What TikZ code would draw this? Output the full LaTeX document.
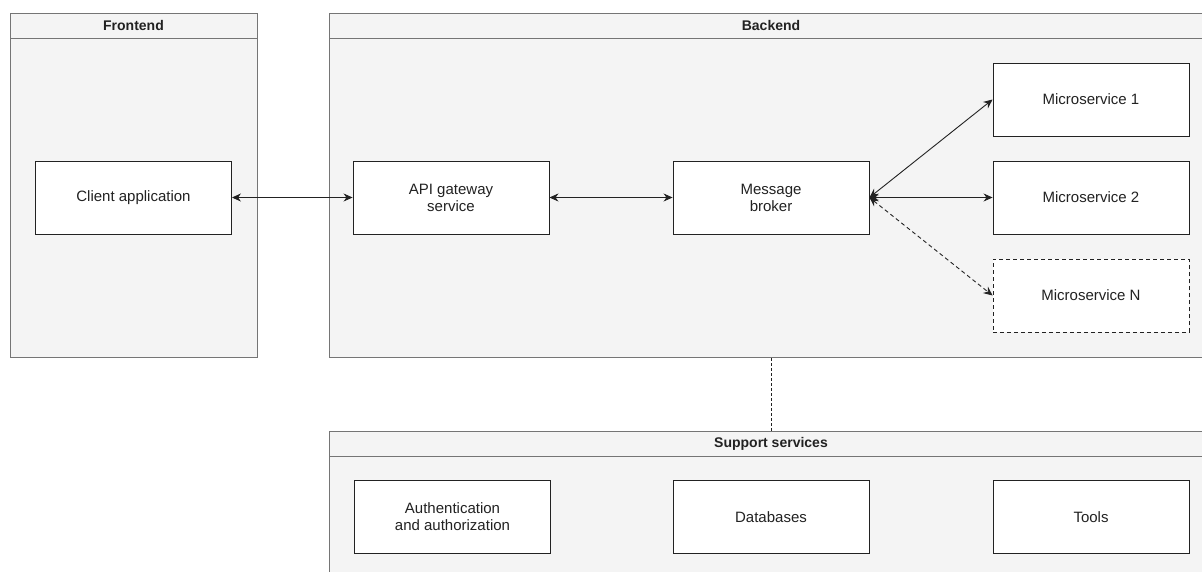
\documentclass[tikz,border=0pt]{standalone}
\usepackage{fontspec}
\setmainfont{Liberation Sans}
\usetikzlibrary{arrows.meta}
\definecolor{cfill}{HTML}{F4F4F4}
\definecolor{cline}{HTML}{757575}
\definecolor{nline}{HTML}{222222}
\definecolor{tcol}{HTML}{222222}
\tikzset{
  container/.style={draw=cline, fill=cfill, line width=1pt, anchor=north west, inner sep=0pt},
  header/.style={anchor=north, minimum height=25pt, inner sep=0pt, font=\fontsize{14}{16}\selectfont\bfseries, text=tcol},
  svc/.style={draw=nline, fill=white, line width=0.9pt, minimum width=196pt, minimum height=73pt, inner sep=0pt, align=center, font=\fontsize{15}{17}\selectfont, text=tcol},
  dsvc/.style={svc, dashed, dash pattern=on 4pt off 3pt},
  link/.style={line width=0.9pt, draw=nline, {Stealth[length=9pt,width=8pt]}-{Stealth[length=9pt,width=8pt]}},
  dlink/.style={link, dash pattern=on 4pt off 3pt},
}
\begin{document}
\begin{tikzpicture}[x=1pt,y=-1pt]
\useasboundingbox (0,0) rectangle (1202,571);
\clip (0,0) rectangle (1202,571);
% containers
\node[container, minimum width=247pt, minimum height=344pt] (fe) at (10,13) {};
\node[container, minimum width=890pt, minimum height=344pt] (be) at (329,13) {};
\node[container, minimum width=890pt, minimum height=160pt] (ss) at (329,431) {};
\node[header] (feh) at (133.5,13) {Frontend};
\node[header] (beh) at (771,13) {Backend};
\node[header] (ssh) at (771,431) {Support services};
\draw[cline, line width=1pt] (10,38) -- (257,38);
\draw[cline, line width=1pt] (329,38) -- (1219,38);
\draw[cline, line width=1pt] (329,456) -- (1219,456);
% services
\node[svc] (client) at (133.5,197.5) {Client application};
\node[svc] (api) at (451,197.5) {API gateway\\service};
\node[svc] (broker) at (771,197.5) {Message\\broker};
\node[svc] (ms1) at (1091,99.5) {Microservice 1};
\node[svc] (ms2) at (1091,197.5) {Microservice 2};
\node[dsvc] (msn) at (1091,295.5) {Microservice N};
\node[svc] (auth) at (452.5,517) {Authentication\\and authorization};
\node[svc] (db) at (771,517) {Databases};
\node[svc] (tools) at (1091,517) {Tools};
% connectors
\draw[link] (client.east) -- (api.west);
\draw[link] (api.east) -- (broker.west);
\draw[link] (broker.east) -- (ms1.west);
\draw[link] (broker.east) -- (ms2.west);
\draw[dlink] (broker.east) -- (msn.west);
\draw[nline, line width=0.9pt, dash pattern=on 3pt off 2pt] (be.south -| broker.center) -- (ss.north -| broker.center);
\end{tikzpicture}
\end{document}
